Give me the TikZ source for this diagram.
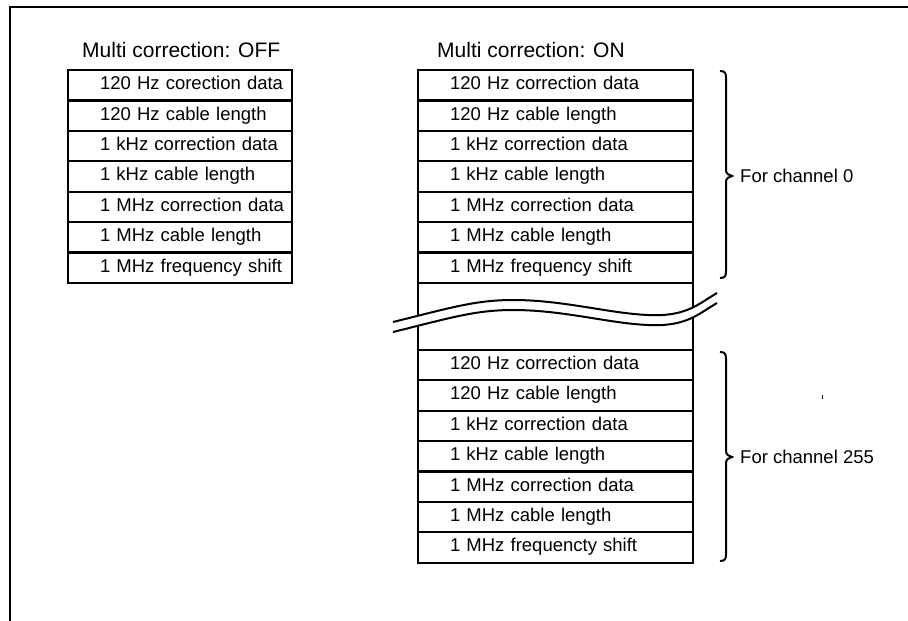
\documentclass[tikz,border=0pt]{standalone}
\usepackage{fontspec}
\setmainfont{Liberation Sans}
\usetikzlibrary{positioning}

\begin{document}
\begin{tikzpicture}[
        x=1pt, y=-1pt,
        frame/.style={line width=2.5pt},
        cell/.style={draw, line width=2.2pt, outer sep=0pt, inner xsep=0pt,
                     inner ysep=0pt, text width=#1, minimum height=30.4pt,
                     align=left, font=\fontsize{18.5}{22}\selectfont,
                     execute at begin node={\noindent\hspace*{32pt}\strut}},
        cell/.default=224pt,
        gapcell/.style={draw, line width=2.2pt, outer sep=0pt,
                        minimum width=275pt, minimum height=67pt},
        ttl/.style={anchor=base west, inner sep=0pt,
                    font=\fontsize{21}{25}\selectfont},
        lab/.style={anchor=west, inner sep=0pt,
                    font=\fontsize{18.5}{22}\selectfont},
        brc/.style={line width=2pt},
        wave/.style={line width=2pt},
    ]
        \useasboundingbox (0,0) rectangle (908,621);
        % cadre
        \draw[frame] (908,7) -- (10,7) -- (10,621);
        % titres
        \node[ttl] (offtitle) at (82,57)  {Multi correction: OFF};
        \node[ttl] (ontitle)  at (437,57) {Multi correction: ON};
        % tableau : OFF
        \node[cell, anchor=north west] (off1) at (68,70) {120 Hz corection data};
        \node[cell, below=0pt of off1] (off2) {120 Hz cable length};
        \node[cell, below=0pt of off2] (off3) {1 kHz correction data};
        \node[cell, below=0pt of off3] (off4) {1 kHz cable length};
        \node[cell, below=0pt of off4] (off5) {1 MHz correction data};
        \node[cell, below=0pt of off5] (off6) {1 MHz cable length};
        \node[cell, below=0pt of off6] (off7) {1 MHz frequency shift};
        % tableau : ON, canal 0
        \node[cell=275pt, anchor=north west] (on1) at (418,70) {120 Hz correction data};
        \node[cell=275pt, below=0pt of on1] (on2) {120 Hz cable length};
        \node[cell=275pt, below=0pt of on2] (on3) {1 kHz correction data};
        \node[cell=275pt, below=0pt of on3] (on4) {1 kHz cable length};
        \node[cell=275pt, below=0pt of on4] (on5) {1 MHz correction data};
        \node[cell=275pt, below=0pt of on5] (on6) {1 MHz cable length};
        \node[cell=275pt, below=0pt of on6] (on7) {1 MHz frequency shift};
        % interruption
        \node[gapcell, below=0pt of on7] (ongap) {};
        % tableau : ON, canal 255
        \node[cell=275pt, below=0pt of ongap] (on9)  {120 Hz correction data};
        \node[cell=275pt, below=0pt of on9]   (on10) {120 Hz cable length};
        \node[cell=275pt, below=0pt of on10]  (on11) {1 kHz correction data};
        \node[cell=275pt, below=0pt of on11]  (on12) {1 kHz cable length};
        \node[cell=275pt, below=0pt of on12]  (on13) {1 MHz correction data};
        \node[cell=275pt, below=0pt of on13]  (on14) {1 MHz cable length};
        \node[cell=275pt, below=0pt of on14]  (on15) {1 MHz frequencty shift};
        % trait de coupure
        \fill[white] (393,322) .. controls (450,308) and (475,300) .. (513,300)
            .. controls (570,300) and (620,317) .. (663,315)
            .. controls (690,313) and (700,303) .. (717,293)
            -- (717,303) .. controls (700,313) and (690,323) .. (663,325)
            .. controls (620,327) and (570,310) .. (513,310)
            .. controls (475,310) and (450,318) .. (393,332) -- cycle;
        \draw[wave] (393,322) .. controls (450,308) and (475,300) .. (513,300)
            .. controls (570,300) and (620,317) .. (663,315)
            .. controls (690,313) and (700,303) .. (717,293);
        \draw[wave] (393,332) .. controls (450,318) and (475,310) .. (513,310)
            .. controls (570,310) and (620,327) .. (663,325)
            .. controls (690,323) and (700,313) .. (717,303);
        % accolades
        \draw[brc] (720,71) .. controls +(5,0) and +(0,-5) .. (726,78) -- (726,170)
            .. controls +(0,4) and +(-3,-1) .. (732,176)
            .. controls +(-3,1) and +(0,-4) .. (726,182) -- (726,271)
            .. controls +(0,5) and +(5,0) .. (720,278);
        \draw[brc] (720,352) .. controls +(5,0) and +(0,-5) .. (726,359) -- (726,451)
            .. controls +(0,4) and +(-3,-1) .. (732,457)
            .. controls +(-3,1) and +(0,-4) .. (726,463) -- (726,554)
            .. controls +(0,5) and +(5,0) .. (720,561);
        \node[lab] (ch0)   at (740,176) {For channel 0};
        \node[lab] (ch255) at (740,457) {For channel 255};
        % petite marque
        \draw[line width=1pt] (822,395) -- (822,399);
    \end{tikzpicture}
\end{document}
